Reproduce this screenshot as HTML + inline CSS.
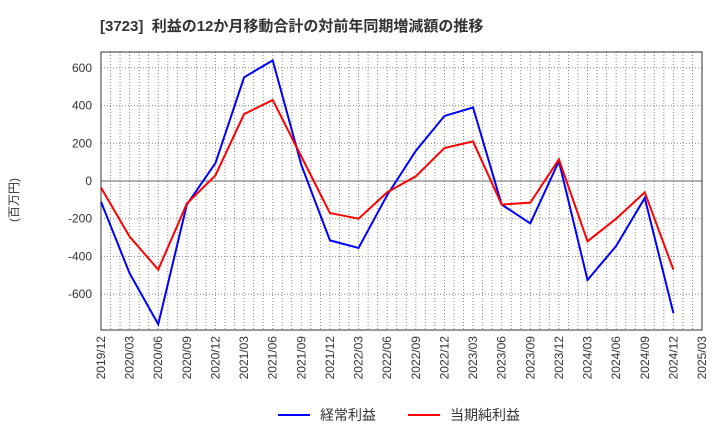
<!DOCTYPE html>
<html><head><meta charset="utf-8"><style>
body{margin:0;background:#fff;}
svg text{font-family:"Liberation Sans","Noto Sans CJK JP",sans-serif;}
</style></head><body>
<svg width="720" height="440" viewBox="0 0 720 440">
<text x="100" y="31" font-size="15" font-weight="bold" fill="#333" xml:space="preserve">[3723]  利益の12か月移動合計の対前年同期増減額の推移</text>
<text x="18" y="200" font-size="12" fill="#333" transform="rotate(-90 18 200)" text-anchor="middle">(百万円)</text>
<g id="grid"></g><g id="axes"></g><g id="series"></g>
<g>
<line x1="278" y1="415" x2="310" y2="415" stroke="#0000ff" stroke-width="2"/>
<text x="320" y="420" font-size="14" fill="#333">経常利益</text>
<line x1="408" y1="415" x2="440" y2="415" stroke="#ff0000" stroke-width="2"/>
<text x="450" y="420" font-size="14" fill="#333">当期純利益</text>
</g>
</svg>
<script>
const categories=["2019/12","2020/03","2020/06","2020/09","2020/12","2021/03","2021/06","2021/09","2021/12","2022/03","2022/06","2022/09","2022/12","2023/03","2023/06","2023/09","2023/12","2024/03","2024/06","2024/09","2024/12","2025/03"];
const keijo=[-110,-490,-760,-125,95,550,640,85,-315,-355,-75,160,345,390,-125,-225,105,-525,-345,-90,-700];
const junri=[-35,-295,-470,-120,30,355,430,130,-170,-200,-60,25,175,210,-125,-115,115,-320,-200,-60,-470];
const yTicks=[600,400,200,0,-200,-400,-600];
const L=101,R=702,T=52,B=330;
const xs=i=>L+i*(R-L)/(categories.length-1);
const ys=v=>181-v*(37.7/200);
const NS="http://www.w3.org/2000/svg";
function mk(p,t,a){const e=document.createElementNS(NS,t);for(const k in a)e.setAttribute(k,a[k]);p.appendChild(e);return e;}
const g=document.getElementById('grid'),ax=document.getElementById('axes'),s=document.getElementById('series');
for(let m=0;m<=(categories.length-1)*3;m++){const x=xs(m/3);
 const l=mk(g,'line',{x1:x,x2:x,y1:T,y2:B,stroke:'#888','stroke-dasharray':'1,2','stroke-width':1});
 }
categories.forEach((c,i)=>{const x=xs(i);
 const t=mk(ax,'text',{x:0,y:0,'font-size':12,fill:'#333','text-anchor':'end',transform:`translate(${x+4},${B+6}) rotate(-90)`});
 t.textContent=c;});
yTicks.forEach(v=>{const y=ys(v);
 const l=mk(g,'line',{x1:L,x2:R,y1:y,y2:y,stroke:v===0?'#666':'#888','stroke-dasharray':v===0?'none':'1,2','stroke-width':1});
 
 const t=mk(ax,'text',{x:L-9,y:y+4,'font-size':12,fill:'#333','text-anchor':'end'});
 t.textContent=v;});
const fr=mk(ax,'rect',{x:L,y:T,width:R-L,height:B-T,fill:'none',stroke:'#333','stroke-width':1});

function line(d,c,n){const p=mk(s,'polyline',{points:d.map((v,i)=>xs(i)+','+ys(v)).join(' '),fill:'none',stroke:c,'stroke-width':2});
 }
line(keijo,'#0000ff','keijo-line');
line(junri,'#ff0000','junri-line');
</script>
</body></html>
